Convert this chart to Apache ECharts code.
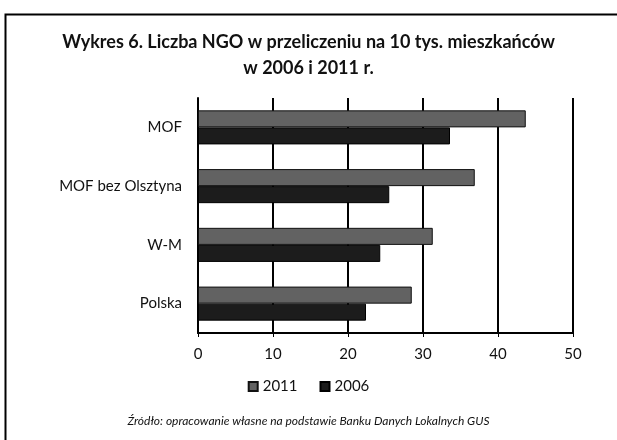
<!DOCTYPE html>
<html>
<head>
<meta charset="utf-8">
<script src="https://cdn.jsdelivr.net/npm/echarts@6/dist/echarts.min.js"></script>
<style>
  html, body { margin: 0; padding: 0; background: #fff; }
  #chart { width: 617px; height: 440px; }
</style>
</head>
<body>
<div id="chart"></div>
<script>
var regions = ['MOF', 'MOF bez Olsztyna', 'W-M', 'Polska'];
var years = ['2011', '2006'];
var ngo2011 = [43.7, 36.9, 31.3, 28.5];
var ngo2006 = [33.6, 25.5, 24.3, 22.4];
var xTicks = [0, 10, 20, 30, 40, 50];

var chart = echarts.init(document.getElementById('chart'));
var font = 'Lato';

chart.setOption({
    animation: false,
    backgroundColor: '#fff',
    title: {
        text: 'Wykres 6. Liczba NGO w przeliczeniu na 10 tys. mieszkańców\nw 2006 i 2011 r.',
        left: 'center',
        top: 24,
        textStyle: { fontFamily: font, fontSize: 18, fontWeight: 'bold', color: '#111', lineHeight: 26 }
    },
    graphic: [{
        type: 'rect',
        shape: { x: 5.5, y: 14.5, width: 640, height: 460 },
        style: { fill: 'none', stroke: '#000', lineWidth: 2 }
    }, {
        type: 'text',
        left: 'center',
        top: 415,
        style: {
            text: 'Źródło: opracowanie własne na podstawie Banku Danych Lokalnych GUS',
            font: 'italic 12px ' + font,
            fill: '#111'
        }
    }],
    legend: {
        data: years,
        top: 374,
        left: 'center',
        itemWidth: 9,
        itemHeight: 9,
        itemGap: 22,
        icon: 'rect',
        textStyle: { fontFamily: font, fontSize: 15, color: '#111' }
    },
    grid: { left: 198, right: 44, top: 98, bottom: 107 },
    xAxis: {
        type: 'value',
        min: xTicks[0],
        max: xTicks[xTicks.length - 1],
        interval: 10,
        axisLine: { show: true, lineStyle: { color: '#000', width: 2 } },
        axisTick: { show: true, length: 4, lineStyle: { color: '#000' } },
        splitLine: { show: true, lineStyle: { color: '#000', width: 2 } },
        axisLabel: { fontFamily: font, fontSize: 15, color: '#111', margin: 14 }
    },
    yAxis: {
        type: 'category',
        data: regions,
        inverse: true,
        axisLine: { show: true, lineStyle: { color: '#000', width: 2 } },
        axisTick: { show: false },
        axisLabel: { fontFamily: font, fontSize: 15, color: '#111', margin: 16 }
    },
    series: [{
        name: years[0],
        type: 'bar',
        data: ngo2011,
        barGap: '0%',
        barCategoryGap: '42%',
        itemStyle: { color: '#626262', borderColor: '#111', borderWidth: 1 }
    }, {
        name: years[1],
        type: 'bar',
        data: ngo2006,
        barGap: '0%',
        barCategoryGap: '42%',
        itemStyle: { color: '#1c1c1c', borderColor: '#000', borderWidth: 1 }
    }]
});
</script>
</body>
</html>
